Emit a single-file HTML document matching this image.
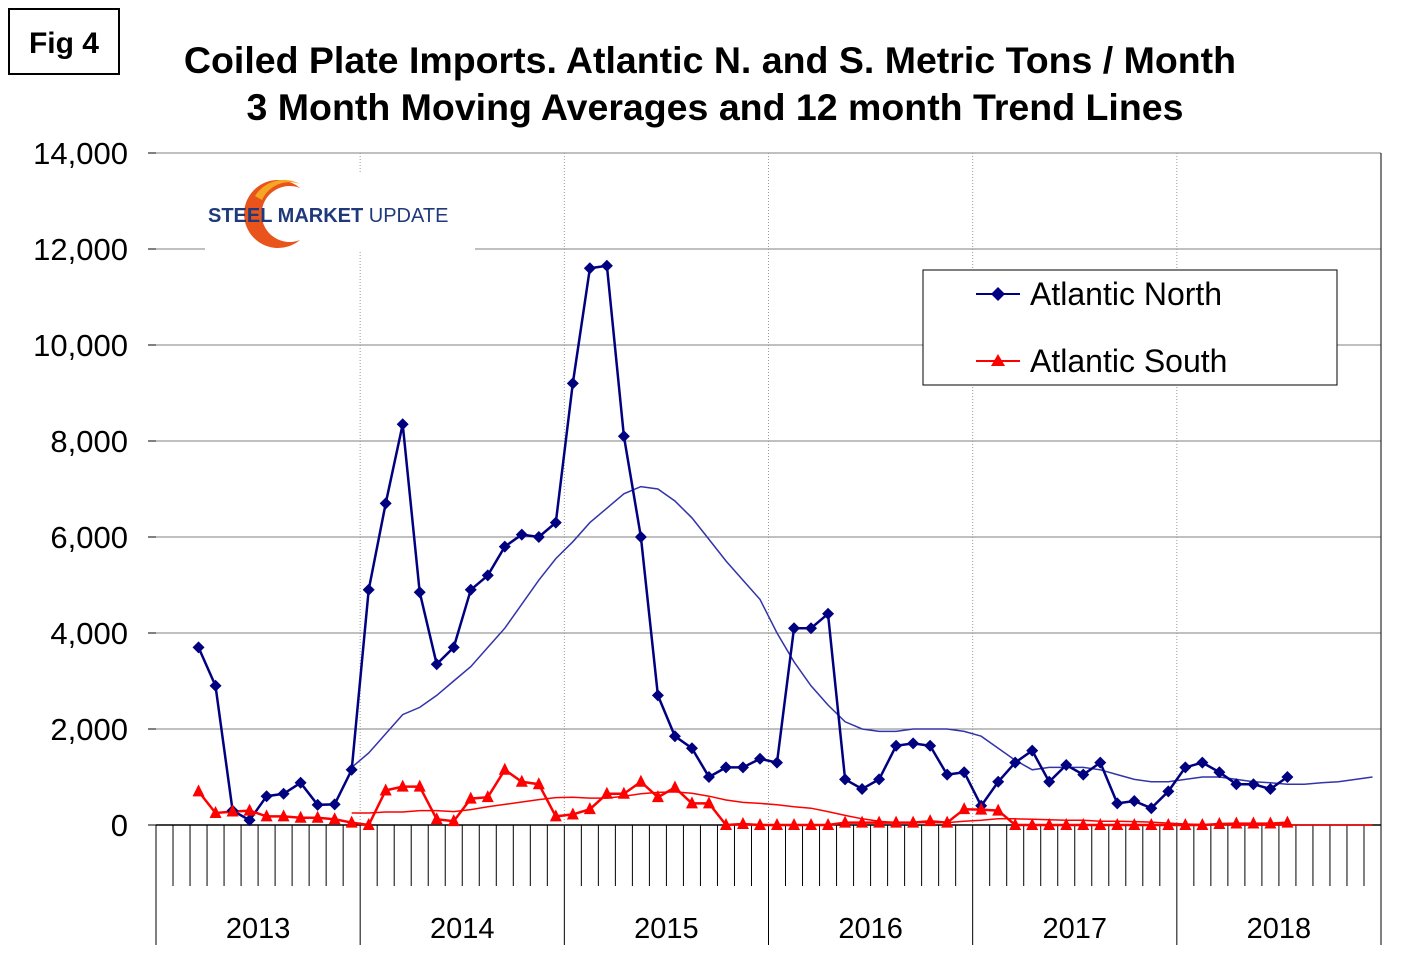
<!DOCTYPE html>
<html><head><meta charset="utf-8"><style>
body{margin:0;background:#fff;}
svg{display:block;font-family:"Liberation Sans",Arial,sans-serif;}
</style></head><body>
<svg id="chart" width="1420" height="973">
<rect x="0" y="0" width="1420" height="973" fill="#fff"/>
<rect x="9" y="9" width="110" height="65" fill="#fff" stroke="#000" stroke-width="2"/>
<text x="64" y="53" font-size="30" font-weight="bold" text-anchor="middle">Fig 4</text>
<text x="710" y="73" font-size="37.5" font-weight="bold" text-anchor="middle">Coiled Plate Imports. Atlantic N. and S. Metric Tons / Month</text>
<text x="715" y="120" font-size="37.5" font-weight="bold" text-anchor="middle">3 Month Moving Averages and 12 month Trend Lines</text>
<g id="grid"></g>
<g id="axes"></g>
<g id="series"></g>
<g>
<rect x="205" y="172" width="270" height="80" fill="#fff"/>
<path d="M 300 188 A 34 34 0 1 0 300 240 A 28 28 0 1 1 300 188 Z" fill="#e8541c"/>
<path d="M 255 196 A 34 34 0 0 1 300 184 A 30 30 0 0 0 262 200 Z" fill="#f5a623"/>
<text x="208" y="222" font-size="20" font-weight="bold" fill="#1f3a7a">STEEL <tspan font-weight="bold">MARKET</tspan> <tspan font-weight="normal">UPDATE</tspan></text>
</g>
<g>
<rect x="923" y="270" width="414" height="115" fill="#fff" stroke="#000" stroke-width="1"/>
<line x1="976" y1="294" x2="1020" y2="294" stroke="#000080" stroke-width="2"/>
<path d="M998 287 L1005 294 L998 301 L991 294 Z" fill="#000080"/>
<text x="1030" y="305" font-size="32">Atlantic North</text>
<line x1="976" y1="361" x2="1020" y2="361" stroke="#ff0000" stroke-width="2"/>
<path d="M998 354 L1005 366 L991 366 Z" fill="#ff0000"/>
<text x="1030" y="372" font-size="32">Atlantic South</text>
</g>
</svg>
<script>
const yTicks=[0,2000,4000,6000,8000,10000,12000,14000];
const years=["2013","2014","2015","2016","2017","2018"];
// month index 0 = Jan 2013
const northStart=2;
const north=[3700,2900,300,100,600,650,880,420,430,1150,4900,6700,8350,4850,3350,3700,4900,5200,5800,6050,6000,6300,9200,11600,11650,8100,6000,2700,1850,1600,1000,1200,1200,1380,1300,4100,4100,4400,950,750,950,1650,1700,1650,1050,1100,400,900,1300,1550,900,1250,1050,1300,450,500,350,700,1200,1300,1100,850,850,750,1000];
const south=[700,250,280,300,180,180,150,150,120,50,0,720,800,800,120,80,550,580,1150,900,850,180,220,330,650,650,900,580,780,450,450,0,20,0,0,0,0,0,50,50,50,50,50,80,50,330,320,300,0,0,0,0,0,0,0,0,0,0,0,0,20,30,30,30,50];
const trendStart=11;
const northTrend=[1200,1500,1900,2300,2450,2700,3000,3300,3700,4100,4600,5100,5550,5900,6300,6600,6900,7050,7000,6750,6400,5950,5500,5100,4700,4000,3400,2900,2500,2150,2000,1950,1950,2000,2000,2000,1950,1850,1600,1350,1150,1200,1200,1200,1150,1050,950,900,900,950,1000,1000,950,900,880,850,850,880,900,950,1000];
const southTrend=[250,250,270,270,300,300,280,320,380,430,480,530,570,580,560,560,600,650,680,690,660,600,520,470,450,420,380,350,280,200,130,80,50,50,50,50,80,100,130,130,120,110,100,100,80,80,70,60,40,20,10,5,0,0,0,0,0,0,0,0,0];
const X0=156,X1=1381,Y0=825,Y1=153,MW=(X1-X0)/72;
const xm=i=>X0+MW*(i+0.5);
const yv=v=>Y0-(v/14000)*(Y0-Y1);
const NS="http://www.w3.org/2000/svg";
function mk(p,t,a){const e=document.createElementNS(NS,t);for(const k in a)e.setAttribute(k,a[k]);p.appendChild(e);return e;}
const grid=document.getElementById('grid'),axes=document.getElementById('axes'),ser=document.getElementById('series');
yTicks.forEach(v=>{
 if(v>0){const l=mk(grid,'line',{x1:X0,x2:X1,y1:yv(v),y2:yv(v),stroke:'#808080','stroke-width':1});
 
 }
 mk(axes,'line',{x1:X0-8,x2:X0,y1:yv(v),y2:yv(v),stroke:'#000'});
 const t=mk(axes,'text',{x:128,y:yv(v)+11,'font-size':31,'text-anchor':'end'});
 t.textContent=v.toLocaleString('en-US');
 
 
});
years.forEach((y,i)=>{
 const x=X0+MW*12*i;
 if(i>0) mk(grid,'line',{x1:x,x2:x,y1:Y1,y2:Y0,stroke:'#999','stroke-dasharray':'1,2'});
 mk(axes,'line',{x1:x,x2:x,y1:Y0,y2:945,stroke:'#000'});
 const t=mk(axes,'text',{x:x+MW*6,y:938,'font-size':29,'text-anchor':'middle'});
 t.textContent=y;
 
 
});
mk(axes,'line',{x1:X1,x2:X1,y1:Y1,y2:945,stroke:'#000'});
mk(axes,'line',{x1:X0,x2:X1,y1:Y0,y2:Y0,stroke:'#000','stroke-width':1.5});
for(let m=1;m<72;m++){ if(m%12) mk(axes,'line',{x1:X0+MW*m,x2:X0+MW*m,y1:Y0,y2:886,stroke:'#000'});}
function line(arr,start,color,w,name){
 const pts=arr.map((v,i)=>xm(start+i).toFixed(1)+','+yv(v).toFixed(1)).join(' ');
 const p=mk(ser,'polyline',{points:pts,fill:'none',stroke:color,'stroke-width':w});
 
 
}
line(northTrend,trendStart,'#3333aa',1.5,'north-trend-line');
line(southTrend,trendStart,'#ff0000',1.5,'south-trend-line');
line(north,northStart,'#000080',2.5,'north-line');
line(south,northStart,'#ff0000',2.5,'south-line');
north.forEach((v,i)=>{const x=xm(northStart+i),y=yv(v);
 const p=mk(ser,'path',{d:`M${x} ${y-6}L${x+6} ${y}L${x} ${y+6}L${x-6} ${y}Z`,fill:'#000080'});
 
 });
south.forEach((v,i)=>{const x=xm(northStart+i),y=yv(v);
 const p=mk(ser,'path',{d:`M${x} ${y-7}L${x+6} ${y+5}L${x-6} ${y+5}Z`,fill:'#ff0000'});
 
 });
</script>
</body></html>
